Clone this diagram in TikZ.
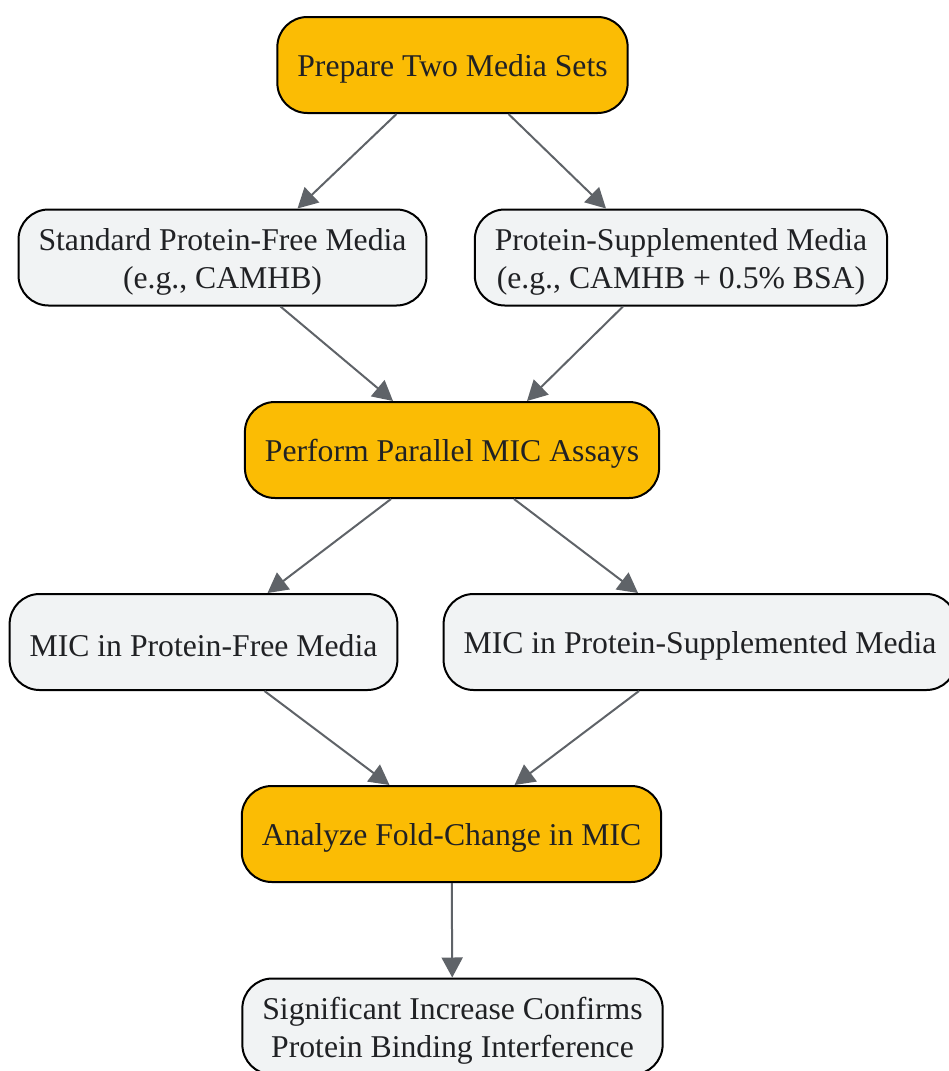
\documentclass[tikz,border=0pt]{standalone}
\usepackage{fontspec}
\setmainfont{Liberation Serif}
\usetikzlibrary{arrows.meta}
\definecolor{stepyellow}{HTML}{FBBC04}
\definecolor{boxgray}{HTML}{F1F3F4}
\definecolor{inkdark}{HTML}{202124}
\definecolor{arrowgray}{HTML}{5F6368}
\newcommand{\boxstrut}{\rule{0pt}{30pt}}
\begin{document}
\begin{tikzpicture}
[x=1pt,y=-1pt,
  stepdecorate/.style={shape=rectangle,rounded corners=30pt,draw=black,line width=2pt,
    fill=stepyellow,text=inkdark,minimum height=96pt,inner xsep=20pt,align=center,
    font=\fontsize{31.7}{38}\selectfont},
  mediadecorate/.style={stepdecorate,fill=boxgray},
  linedecorate/.style={-{Triangle[length=20pt,width=21pt]},line width=2pt,draw=arrowgray}]
\useasboundingbox (0,0) rectangle (949,1071);
%%% workflow
% nodes or boxes
\node (prep) at (452.5,65) [stepdecorate] {\boxstrut Prepare Two Media Sets};
\node (std) at (222.5,257.5) [mediadecorate] {\boxstrut Standard Protein-Free Media\\(e.g., CAMHB)};
\node (supp) at (681,257.5) [mediadecorate] {\boxstrut Protein-Supplemented Media\\(e.g., CAMHB + 0.5\% BSA)};
\node (assay) at (452,450) [stepdecorate] {\boxstrut Perform Parallel MIC Assays};
\node (micfree) at (203.5,642) [mediadecorate] {\boxstrut MIC in Protein-Free Media};
\node (micsupp) at (700,642) [mediadecorate] {\boxstrut MIC in Protein-Supplemented Media};
\node (fold) at (451.5,834) [stepdecorate] {\boxstrut Analyze Fold-Change in MIC};
\node (result) at (452.5,1026.5) [mediadecorate] {\boxstrut Significant Increase Confirms\\Protein Binding Interference};
% edges or arrows
\path
([xshift=-56pt]prep.south) edge[linedecorate] ([xshift=75pt]std.north)
([xshift=56pt]prep.south) edge[linedecorate] ([xshift=-75pt]supp.north)
([xshift=58pt]std.south) edge[linedecorate] ([xshift=-59pt]assay.north)
([xshift=-58pt]supp.south) edge[linedecorate] ([xshift=75pt]assay.north)
([xshift=-61pt]assay.south) edge[linedecorate] ([xshift=64pt]micfree.north)
([xshift=62pt]assay.south) edge[linedecorate] ([xshift=-62pt]micsupp.north)
([xshift=61pt]micfree.south) edge[linedecorate] ([xshift=-62pt]fold.north)
([xshift=-61pt]micsupp.south) edge[linedecorate] ([xshift=63pt]fold.north)
(fold) edge[linedecorate] (result);
\end{tikzpicture}
\end{document}
